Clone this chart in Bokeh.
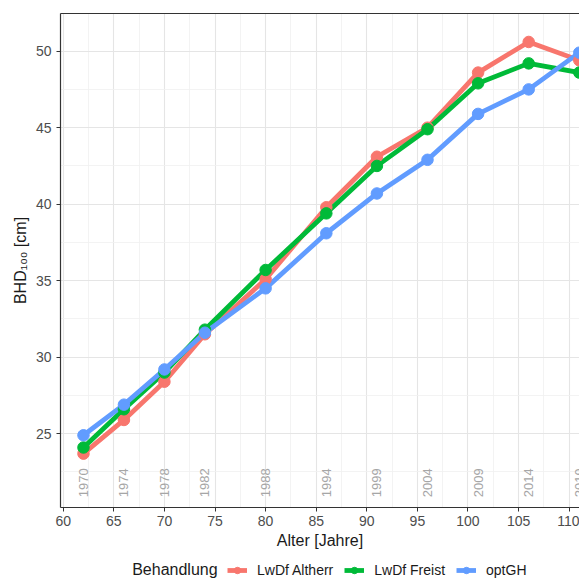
from bokeh.plotting import figure
from bokeh.layouts import column
from bokeh.models import (ColumnDataSource, Range1d, LinearAxis, FixedTicker,
                          SingleIntervalTicker, Legend, LegendItem, Label)
from bokeh.core.properties import value
from bokeh.embed import file_html
from bokeh.resources import INLINE
import math

# ---- data ----
ages = [62, 66, 70, 74, 80, 86, 91, 96, 101, 106, 111]
years = ["1970", "1974", "1978", "1982", "1988", "1994", "1999", "2004", "2009", "2014", "2019"]
altherr = [23.7, 25.9, 28.4, 31.5, 35.1, 39.8, 43.1, 45.0, 48.6, 50.6, 49.4]
freist = [24.1, 26.6, 29.0, 31.8, 35.7, 39.4, 42.5, 44.9, 47.9, 49.2, 48.6]
optgh = [24.9, 26.9, 29.2, 31.6, 34.5, 38.1, 40.7, 42.9, 45.9, 47.5, 49.9]
series_names = ["LwDf Altherr", "LwDf Freist", "optGH"]
series_colors = ["#F8766D", "#00BA38", "#619CFF"]
year_label_y = 21.8

FONT = "Liberation Sans"

p = figure(width=579, height=551, output_backend="svg", toolbar_location=None,
           x_range=Range1d(59.73, 111.02), y_range=Range1d(20.18, 52.46),
           min_border_left=60, min_border_top=13, min_border_right=0, min_border_bottom=44)
p.outline_line_color = None
p.background_fill_color = "white"

# axes styling
p.xaxis.ticker = SingleIntervalTicker(interval=5, num_minor_ticks=2)
p.yaxis.ticker = SingleIntervalTicker(interval=5, num_minor_ticks=2)
for ax in (p.xaxis[0], p.yaxis[0]):
    ax.axis_line_color = "#333333"
    ax.axis_line_width = 1.2
    ax.major_tick_line_color = "#333333"
    ax.major_tick_out = 4
    ax.major_tick_in = 0
    ax.minor_tick_out = 0
    ax.minor_tick_in = 0
    ax.major_label_text_font = FONT
    ax.major_label_text_font_size = "14px"
    ax.major_label_text_color = "#4d4d4d"
    ax.axis_label_text_font = FONT
    ax.axis_label_text_font_size = "16px"
    ax.axis_label_text_font_style = "normal"
    ax.axis_label_text_color = "#1a1a1a"

p.xaxis.axis_label = "Alter [Jahre]"
p.xaxis.major_label_standoff = 4
p.xaxis.axis_label_standoff = 3
p.yaxis.axis_label = "BHD\u2081\u2080\u2080 [cm]"
p.yaxis.major_label_standoff = 5
p.yaxis.axis_label_standoff = 4

# top border line
top = LinearAxis(ticker=FixedTicker(ticks=[]), axis_line_color="#333333", axis_line_width=1.2,
                 major_tick_out=0, major_tick_in=0, minor_tick_out=0, minor_tick_in=0,
                 major_label_text_font_size="0px")
p.add_layout(top, "above")

# grid
p.xgrid.grid_line_color = "#e5e5e5"
p.ygrid.grid_line_color = "#e5e5e5"
p.xgrid.grid_line_width = 1.1
p.ygrid.grid_line_width = 1.1
p.xgrid.minor_grid_line_color = "#f0f0f0"
p.ygrid.minor_grid_line_color = "#f0f0f0"
p.xgrid.minor_grid_line_width = 0.8
p.ygrid.minor_grid_line_width = 0.8

# year labels
ysrc = ColumnDataSource(dict(x=ages, y=[year_label_y] * len(ages), t=years))
p.text(x="x", y="y", text="t", source=ysrc, angle=math.pi / 2,
       text_align="center", text_baseline="middle",
       text_font_size="13px", text_color="#a6a6a6", text_font=value(FONT))

series_vals = [altherr, freist, optgh]
srcs = [ColumnDataSource(dict(x=ages, y=v)) for v in series_vals]
for s, c in zip(srcs, series_colors):
    p.line("x", "y", source=s, line_color=c, line_width=4.8)
for s, c in zip(srcs, series_colors):
    p.scatter("x", "y", source=s, size=11.5, fill_color=c, line_color=c)

# ---- legend strip (frame is aligned with the main frame: x 60..579) ----
lg = figure(width=579, height=28, output_backend="svg", toolbar_location=None,
            x_range=Range1d(60, 579), y_range=Range1d(0, 28),
            x_axis_type=None, y_axis_type=None, min_border=0)
lg.outline_line_color = None
lg.grid.visible = False
items = []
for n, c in zip(series_names, series_colors):
    lr = lg.line(x=[-1000, -999], y=[-1000, -1000], line_color=c, line_width=4.8)
    sr = lg.scatter(x=[-1000], y=[-1000], size=11.5, fill_color=c, line_color=c)
    items.append(LegendItem(label=n, renderers=[lr, sr]))
legend = Legend(items=items, orientation="horizontal", location=(167, 1),
                label_text_font=FONT, label_text_font_size="14px", label_text_color="#1a1a1a",
                glyph_width=20, glyph_height=16, label_standoff=10, spacing=11,
                padding=2, margin=0, border_line_color=None, background_fill_alpha=0)
lg.add_layout(legend, "center")
lg.add_layout(Label(x=131.7, y=10, text="Behandlung", text_font=FONT, text_font_size="16px",
                    text_color="#1a1a1a", text_baseline="middle", text_align="left"))

layout = column(p, lg, spacing=0)
open("out.html", "w").write(file_html(layout, INLINE))
